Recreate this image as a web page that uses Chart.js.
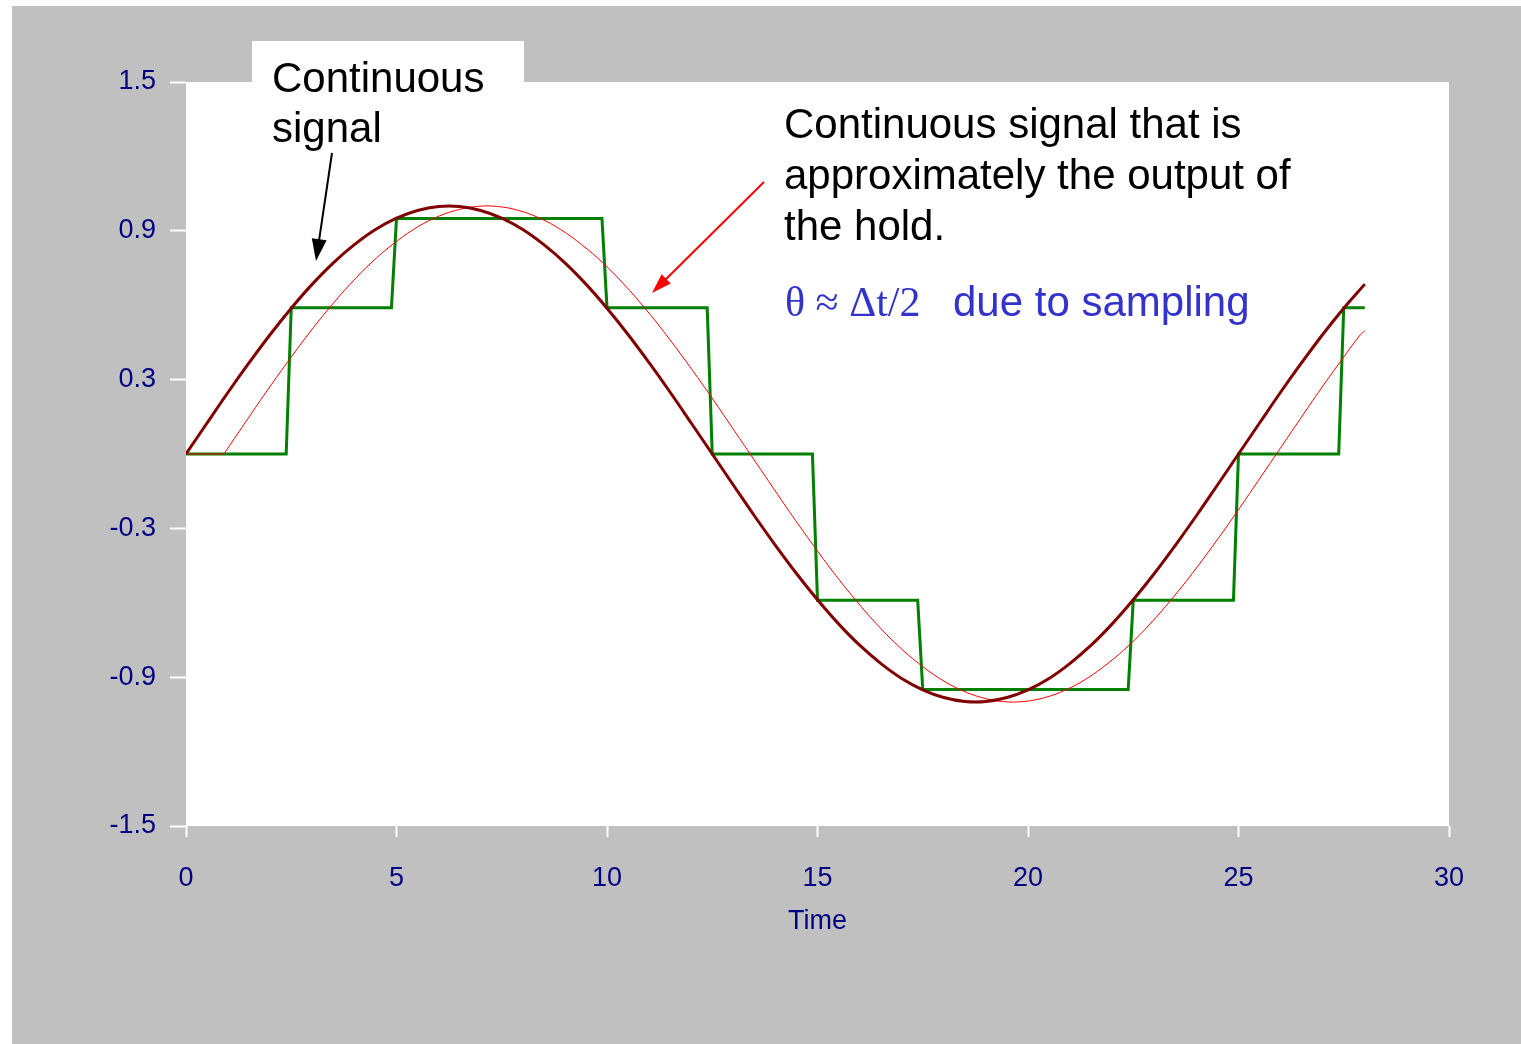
<!DOCTYPE html>
<html><head><meta charset="utf-8">
<script src="https://cdn.jsdelivr.net/npm/chart.js@4"></script>
<style>
html,body{margin:0;padding:0;background:#fff;overflow:hidden}
#wrap{position:absolute;left:0;top:0;width:1521px;height:1044px}
</style></head><body>
<div id="wrap"><canvas id="c" width="1521" height="1044"></canvas></div>
<script>
// ---- data ----
const continuousTimes = [0,0.5,1,1.5,2,2.5,3,3.5,4,4.5,5,5.5,6,6.5,7,7.5,8,8.5,9,9.5,10,10.5,11,11.5,12,12.5,13,13.5,14,14.5,15,15.5,16,16.5,17,17.5,18,18.5,19,19.5,20,20.5,21,21.5,22,22.5,23,23.5,24,24.5,25,25.5,26,26.5,27,27.5,28];
const continuousValues = [0,0.125,0.249,0.368,0.482,0.588,0.685,0.771,0.844,0.905,0.951,0.982,0.998,0.998,0.982,0.951,0.905,0.844,0.771,0.685,0.588,0.482,0.368,0.249,0.125,0,-0.125,-0.249,-0.368,-0.482,-0.588,-0.685,-0.771,-0.844,-0.905,-0.951,-0.982,-0.998,-0.998,-0.982,-0.951,-0.905,-0.844,-0.771,-0.685,-0.588,-0.482,-0.368,-0.249,-0.125,0,0.125,0.249,0.368,0.482,0.588,0.685];

const delayedFlatTimes = [0,0.9];
const delayedFlatValues = [0,0];
const delayedTimes = [0.9,1.4,1.9,2.4,2.9,3.4,3.9,4.4,4.9,5.4,5.9,6.4,6.9,7.4,7.9,8.4,8.9,9.4,9.9,10.4,10.9,11.4,11.9,12.4,12.9,13.4,13.9,14.4,14.9,15.4,15.9,16.4,16.9,17.4,17.9,18.4,18.9,19.4,19.9,20.4,20.9,21.4,21.9,22.4,22.9,23.4,23.9,24.4,24.9,25.4,25.9,26.4,26.9,27.4,27.9,28];
const delayedValues = [0,0.125,0.249,0.368,0.482,0.588,0.685,0.771,0.844,0.905,0.951,0.982,0.998,0.998,0.982,0.951,0.905,0.844,0.771,0.685,0.588,0.482,0.368,0.249,0.125,0,-0.125,-0.249,-0.368,-0.482,-0.588,-0.685,-0.771,-0.844,-0.905,-0.951,-0.982,-0.998,-0.998,-0.982,-0.951,-0.905,-0.844,-0.771,-0.685,-0.588,-0.482,-0.368,-0.249,-0.125,0,0.125,0.249,0.368,0.482,0.496];

const sampleTimes = [0,2.5,5,7.5,10,12.5,15,17.5,20,22.5,25,27.5];
const heldValues = [0,0.59,0.95,0.95,0.59,0,-0.59,-0.95,-0.95,-0.59,0,0.59];
const holdEnd = 28;
const holdRamp = 0.12;

const xTicks = [0,5,10,15,20,25,30];
const yTicks = [-1.5,-0.9,-0.3,0.3,0.9,1.5];

// ---- build point lists ----
const pts = (xs, ys) => xs.map((x, i) => ({x, y: ys[i]}));
const holdPts = [];
sampleTimes.forEach((t, i) => {
  holdPts.push({x: t, y: heldValues[i]});
  const next = i + 1 < sampleTimes.length ? sampleTimes[i + 1] - holdRamp : holdEnd;
  holdPts.push({x: next, y: heldValues[i]});
});

const W = 1521, H = 1044;
const NAVY = '#000080';
const tickFont = {family: "'Liberation Sans', Arial, sans-serif", size: 27};

function arrow(ctx, x1, y1, x2, y2, color, w, hl, hw) {
  const a = Math.atan2(y2 - y1, x2 - x1), c = Math.cos(a), s = Math.sin(a);
  ctx.strokeStyle = color; ctx.fillStyle = color; ctx.lineWidth = w;
  ctx.beginPath(); ctx.moveTo(x1, y1); ctx.lineTo(x2 - c * hl * 0.8, y2 - s * hl * 0.8); ctx.stroke();
  ctx.beginPath(); ctx.moveTo(x2, y2);
  ctx.lineTo(x2 - hl * c + hw / 2 * s, y2 - hl * s - hw / 2 * c);
  ctx.lineTo(x2 - hl * c - hw / 2 * s, y2 - hl * s + hw / 2 * c);
  ctx.closePath(); ctx.fill();
}

const decor = {
  id: 'decor',
  beforeDraw(chart) {
    const {ctx, chartArea: a} = chart;
    ctx.save();
    ctx.fillStyle = '#fff'; ctx.fillRect(0, 0, W, H);
    ctx.fillStyle = '#c0c0c0'; ctx.fillRect(12, 6, W - 12, H - 6);
    ctx.fillStyle = '#fff';
    ctx.fillRect(a.left, a.top, a.right - a.left, a.bottom - a.top);
    ctx.fillRect(252, 41, 272, a.top - 41 + 1);
    ctx.restore();
  },
  afterDraw(chart) {
    const ctx = chart.ctx;
    ctx.save();
    ctx.textBaseline = 'alphabetic'; ctx.textAlign = 'left';
    ctx.fillStyle = '#000';
    ctx.font = "42px 'Liberation Sans', Arial, sans-serif";
    ctx.fillText('Continuous', 272, 92);
    ctx.fillText('signal', 272, 142);
    ctx.fillText('Continuous signal that is', 784, 138);
    ctx.fillText('approximately the output of', 784, 189);
    ctx.fillText('the hold.', 784, 240);
    ctx.fillStyle = 'rgb(51,51,204)';
    ctx.font = "42px 'Liberation Serif', 'Times New Roman', serif";
    ctx.fillText('\u03B8 \u2248 \u0394t/2', 785, 316);
    ctx.font = "42px 'Liberation Sans', Arial, sans-serif";
    ctx.fillText('due to sampling', 953, 316);
    arrow(ctx, 332, 153, 316, 261, '#000', 2, 22, 15);
    arrow(ctx, 764, 182, 652, 293, '#ff0000', 2, 20, 13);
    ctx.restore();
  }
};

new Chart(document.getElementById('c'), {
  type: 'line',
  data: {
    datasets: [
      {data: pts(continuousTimes, continuousValues), borderColor: '#800000', borderWidth: 3, pointRadius: 0, tension: 0.4, fill: false},
      {data: pts(delayedTimes, delayedValues), borderColor: '#ff0000', borderWidth: 1, pointRadius: 0, tension: 0.4, fill: false},
      {data: pts(delayedFlatTimes, delayedFlatValues), borderColor: '#ff0000', borderWidth: 1, pointRadius: 0, fill: false},
      {data: holdPts, borderColor: '#008000', borderWidth: 3, pointRadius: 0, tension: 0, fill: false}
    ]
  },
  options: {
    responsive: false, animation: false, devicePixelRatio: 1,
    layout: {padding: {left: 0, top: 82, right: 72, bottom: 0}},
    plugins: {legend: {display: false}, tooltip: {enabled: false}},
    scales: {
      x: {
        type: 'linear', min: 0, max: 30,
        afterBuildTicks: s => { s.ticks = xTicks.map(v => ({value: v})); },
        afterFit: s => { s.height = 218; },
        ticks: {color: NAVY, font: tickFont, padding: 25, maxRotation: 0, autoSkip: false},
        grid: {drawOnChartArea: false, color: '#fff', tickColor: '#fff', tickLength: 11, tickWidth: 2},
        border: {display: false},
        title: {display: true, text: 'Time', color: NAVY, font: {family: tickFont.family, size: 27}, padding: {top: 0, bottom: 106}}
      },
      y: {
        type: 'linear', min: -1.5, max: 1.5,
        afterBuildTicks: s => { s.ticks = yTicks.map(v => ({value: v})); },
        afterFit: s => { s.width = 186; },
        ticks: {color: NAVY, font: tickFont, padding: 14, callback: v => v.toFixed(1)},
        grid: {drawOnChartArea: false, color: '#fff', tickColor: '#fff', tickLength: 16, tickWidth: 2},
        border: {display: false}
      }
    }
  },
  plugins: [decor]
});
</script>
</body></html>
